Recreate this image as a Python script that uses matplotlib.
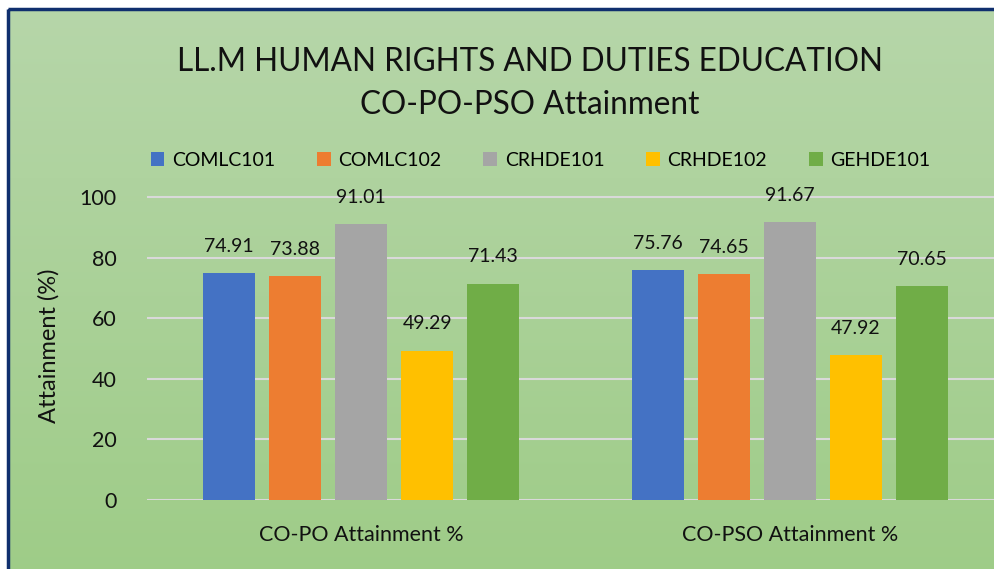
import matplotlib.pyplot as plt
import numpy as np
from matplotlib.patches import Rectangle

categories = ["CO-PO Attainment %", "CO-PSO Attainment %"]
courses = ["COMLC101", "COMLC102", "CRHDE101", "CRHDE102", "GEHDE101"]
values = {
    "COMLC101": [74.91, 75.76],
    "COMLC102": [73.88, 74.65],
    "CRHDE101": [91.01, 91.67],
    "CRHDE102": [49.29, 47.92],
    "GEHDE101": [71.43, 70.65],
}
colors = ["#4472c4", "#ed7d31", "#a5a5a5", "#ffc000", "#70ad47"]
yticks = [0, 20, 40, 60, 80, 100]

plt.rcParams["font.family"] = ["Lato", "DejaVu Sans"]

W, H = 995, 569
fig = plt.figure(figsize=(W / 100, H / 100), dpi=100, facecolor="white")

# gradient background + border
bg = fig.add_axes([0, 0, 1, 1], zorder=0)
bg.set_xlim(0, W)
bg.set_ylim(H, 0)
bg.axis("off")
grad = np.linspace(0, 1, 256).reshape(-1, 1)
top = np.array([0.714, 0.839, 0.663])
bot = np.array([0.620, 0.800, 0.530])
img = top + (bot - top) * grad[:, :, None]
bg.imshow(img, extent=[8, W + 10, H + 10, 9], aspect="auto", zorder=0)
bg.add_patch(Rectangle((8, 9), W + 10, H + 10, fill=False, edgecolor="#102f6e", linewidth=2.5, zorder=1))

# plot area: left x=147, y0 at 500, y100 at 197
left = 147 / W
right = 1004 / W
y0 = 500
ytop = y0 - 102 * 3.03
ax = fig.add_axes([left, 1 - y0 / H, right - left, (y0 - ytop) / H], zorder=2)
ax.set_facecolor("none")

x = np.arange(len(categories))
step = 0.154
width = 0.121
for i, (course, color) in enumerate(zip(courses, colors)):
    pos = x + (i - 2) * step
    bars = ax.bar(pos, values[course], width, color=color, label=course, zorder=3)
    for b, v in zip(bars, values[course]):
        ax.text(b.get_x() + b.get_width() / 2, v + 6, f"{v:.2f}", ha="center", va="bottom",
                fontsize=14, color="#111111", zorder=4)

ax.set_xlim(-0.5, 1.5)
ax.set_ylim(0, 102)
ax.set_yticks(yticks)
ax.set_yticklabels([str(t) for t in yticks], fontsize=15.5)
ax.set_xticks(x)
ax.set_xticklabels(categories, fontsize=15.5)
ax.tick_params(length=0, colors="#111111")
ax.tick_params(axis="y", pad=22)
ax.tick_params(axis="x", pad=18)
ax.grid(axis="y", color="#d9d9d9", linewidth=1.5, zorder=1)
for s in ax.spines.values():
    s.set_visible(False)
ax.set_ylabel("Attainment (%)", fontsize=17, labelpad=14, color="#111111")

fig.text(530 / W, 1 - 62 / H, "LL.M HUMAN RIGHTS AND DUTIES EDUCATION", ha="center", va="center",
         fontsize=22.7, color="#111111")
fig.text(530 / W, 1 - 105 / H, "CO-PO-PSO Attainment", ha="center", va="center",
         fontsize=22.7, color="#111111")

handles, labels = ax.get_legend_handles_labels()
fig.legend(handles, labels, loc="center left", bbox_to_anchor=(143 / W, 1 - 160 / H), ncol=5,
           frameon=False, fontsize=14, handlelength=0.7, handleheight=0.7, handletextpad=0.4,
           columnspacing=2.15, borderaxespad=0)

fig.savefig("out.png", dpi=100, facecolor="white")
